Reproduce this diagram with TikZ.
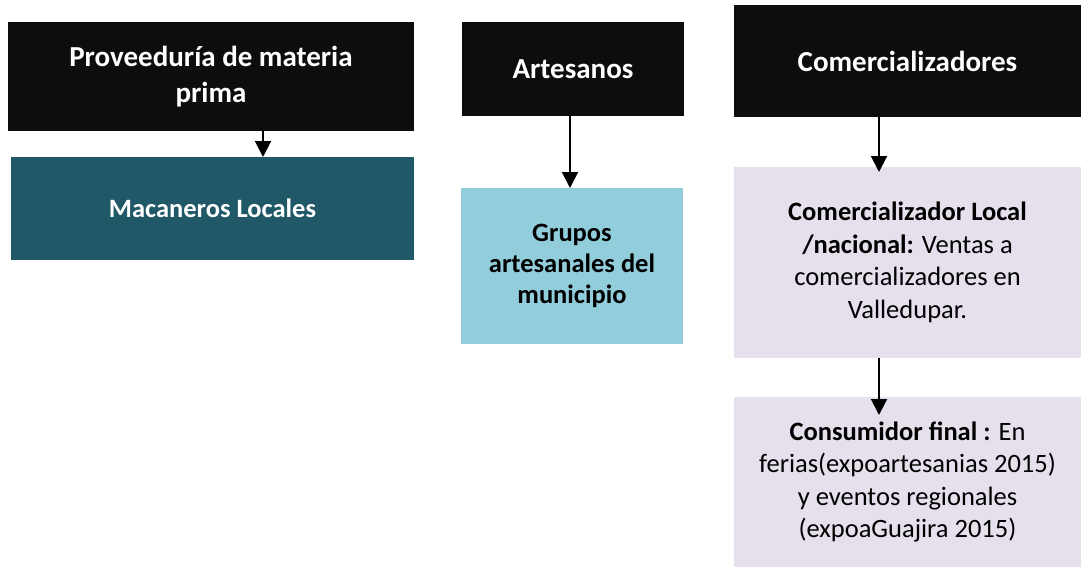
\documentclass[tikz,border=0pt]{standalone}
\usepackage{fontspec}
\setmainfont{Carlito}
\usetikzlibrary{arrows.meta}
\definecolor{hdr}{HTML}{0D0D0D}
\definecolor{teal1}{HTML}{215868}
\definecolor{ltblue}{HTML}{92CDDC}
\definecolor{lav}{HTML}{E5E0EC}
\tikzset{
  box/.style={rectangle, inner sep=0pt, outer sep=0pt, align=center},
  hdrbox/.style={box, fill=hdr, text=white, font=\fontsize{29}{36}\selectfont\bfseries},
  bodybox/.style={box, font=\fontsize{26.5}{32.5}\selectfont},
  arr/.style={line width=2pt, -{Triangle[width=16pt,length=16pt]}}
}
\begin{document}
\begin{tikzpicture}[x=1pt,y=1pt]
\useasboundingbox (0,0) rectangle (1081,-567);
% headers
\node[hdrbox, minimum width=406pt, minimum height=109pt] (b1) at (211,-76.5) {Proveeduría de materia\\prima};
\node[hdrbox, minimum width=222pt, minimum height=94pt] (b3) at (573,-69) {Artesanos};
\node[hdrbox, minimum width=347pt, minimum height=112pt] (b5) at (907.5,-61) {Comercializadores};
% second level
\node[bodybox, fill=teal1, text=white, font=\fontsize{26.5}{32.5}\selectfont\bfseries, minimum width=403pt, minimum height=103pt] (b2) at (212.5,-208.5) {Macaneros Locales};
\node[bodybox, fill=ltblue, text=black, font=\fontsize{26.5}{31}\selectfont\bfseries, minimum width=222pt, minimum height=156pt] (b4) at (572,-266) {Grupos\\artesanales del\\municipio};
\node[bodybox, fill=lav, text=black, minimum width=347pt, minimum height=191pt] (b6) at (907.5,-262.5) {\textbf{Comercializador Local}\\\textbf{/nacional:} Ventas a\\comercializadores en\\Valledupar.};
\node[bodybox, fill=lav, text=black, minimum width=347pt, minimum height=170pt] (b7) at (907.5,-482) {\textbf{Consumidor final :} En\\ferias(expoartesanias 2015)\\y eventos regionales\\(expoaGuajira 2015)};
% arrows
\draw[arr] (b1.south -| 263,0) -- (b2.north -| 263,0);
\draw[arr] (b3.south -| 570,0) -- (b4.north -| 570,0);
\draw[arr, shorten >=-5pt] (b5.south -| 879,0) -- (b6.north -| 879,0);
\draw[arr, shorten >=-18pt] (b6.south -| 879,0) -- (b7.north -| 879,0);
\end{tikzpicture}
\end{document}
